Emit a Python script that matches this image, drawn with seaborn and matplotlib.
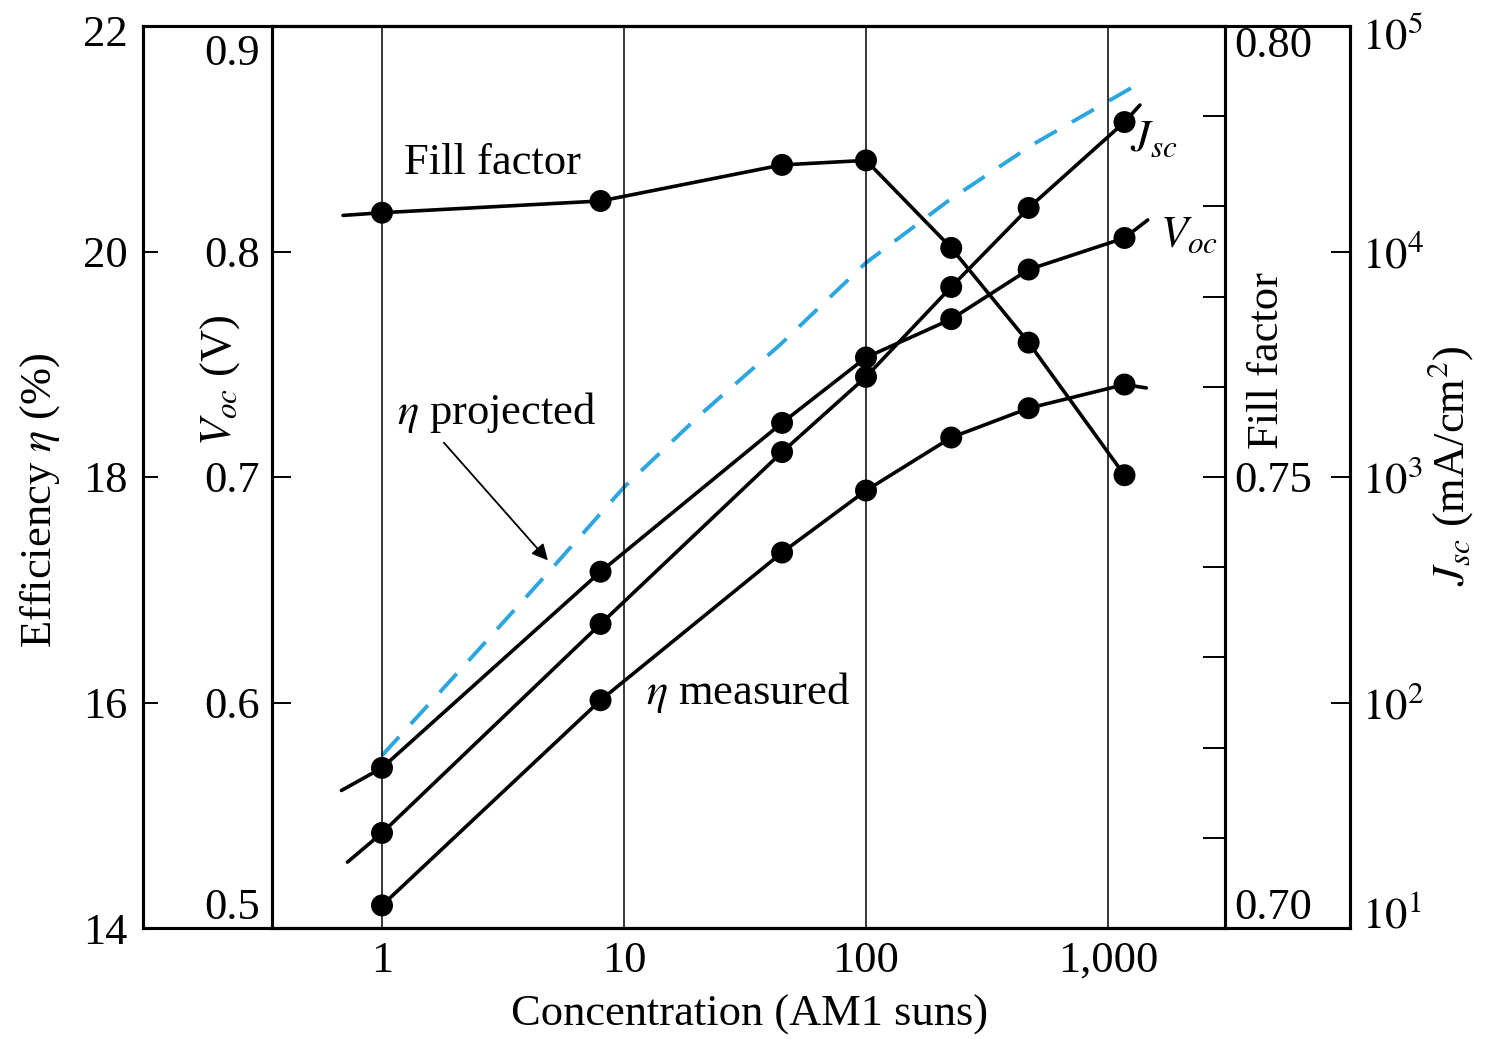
import numpy as np
import pandas as pd
import matplotlib
matplotlib.use("Agg")
import matplotlib.pyplot as plt
import matplotlib.transforms as mtransforms
import seaborn as sns
from matplotlib.ticker import NullLocator

# ---- measured data vs. concentration (AM1 suns) ----
concentration = [1, 8, 45, 100, 225, 470, 1170]
eff_measured = [14.20, 16.02, 17.33, 17.88, 18.35, 18.61, 18.82]
voc = [0.571, 0.658, 0.724, 0.753, 0.770, 0.792, 0.806]
jsc = [26.4, 223, 1290, 2780, 6960, 15600, 37500]
fill_factor = [0.7793, 0.7806, 0.7846, 0.7851, 0.7754, 0.7649, 0.7502]

# curve ends drawn past the measured points (no markers)
voc_end_conc = [0.68, 1460]
voc_end = [0.561, 0.814]
jsc_end_conc = [0.72, 1355]
jsc_end = [19.6, 44600]
eff_end_conc = [1440]
eff_end = [18.79]
ff_end_conc = [0.69]
ff_end = [0.779]

# projected efficiency (dashed curve)
eff_proj_conc = [1, 2.3, 4.85, 10, 20.6, 44, 100, 222, 490, 1420]
eff_proj = [15.53, 16.38, 17.15, 17.91, 18.55, 19.17, 19.90, 20.46, 20.95, 21.52]

x_ticks = [1, 10, 100, 1000]
x_tick_labels = ["1", "10", "100", "1,000"]
eff_ticks = [14, 16, 18, 20, 22]
voc_ticks = [0.5, 0.6, 0.7, 0.8, 0.9]
ff_ticks = [0.70, 0.71, 0.72, 0.73, 0.74, 0.75, 0.76, 0.77, 0.78, 0.79, 0.80]
ff_tick_labels = ["0.70", "", "", "", "", "0.75", "", "", "", "", "0.80"]
jsc_ticks = [1e1, 1e2, 1e3, 1e4, 1e5]
jsc_tick_labels = [r"$10^{1}$", r"$10^{2}$", r"$10^{3}$", r"$10^{4}$", r"$10^{5}$"]

sns.set_style("white", rc={"axes.edgecolor": "black", "xtick.color": "black",
                           "ytick.color": "black", "text.color": "black",
                           "axes.labelcolor": "black"})
plt.rcParams["font.family"] = ["Liberation Serif", "DejaVu Serif"]
plt.rcParams["mathtext.fontset"] = "stix"

W, H = 1486, 1039
fig = plt.figure(figsize=(W / 100, H / 100), dpi=100)


def fx(px):
    return px / W


def fy(py):
    return 1 - py / H


TOP, BOT = 26, 928
ONE_PX, DEC_PX = 382, 242   # position of x=1 and width of one decade


def xlim_for(left, right):
    return (10 ** ((left - ONE_PX) / DEC_PX), 10 ** ((right - ONE_PX) / DEC_PX))


def nudge(label, dy_px):
    off = mtransforms.ScaledTranslation(0, -dy_px / 100, fig.dpi_scale_trans)
    label.set_transform(label.get_transform() + off)


SPINE_W = 2.2
FS = 32
BLACK = "black"

# outer frame: efficiency (left) and Jsc (right)
ax_eff = fig.add_axes([fx(143), fy(BOT), (1350 - 143) / W, (BOT - TOP) / H])
ax_eff.set_xscale("log")
ax_eff.set_xlim(*xlim_for(143, 1350))
ax_eff.set_ylim(14, 22)
ax_eff.xaxis.set_major_locator(NullLocator())
ax_eff.xaxis.set_minor_locator(NullLocator())
ax_eff.set_yticks(eff_ticks)
ax_eff.tick_params(axis="y", direction="in", length=11, width=1.4, pad=11, labelsize=FS)

ax_jsc = ax_eff.twinx()
ax_jsc.set_yscale("log")
ax_jsc.set_ylim(1e1, 1e5)
ax_jsc.set_yticks(jsc_ticks, labels=jsc_tick_labels)
ax_jsc.yaxis.set_minor_locator(NullLocator())
ax_jsc.tick_params(axis="y", direction="in", length=14, width=1.4, pad=9, labelsize=FS)

# inner frame: Voc (left) and fill factor (right)
ax_voc = fig.add_axes([fx(272), fy(BOT), (1225 - 272) / W, (BOT - TOP) / H])
ax_voc.patch.set_visible(False)
ax_voc.set_xscale("log")
ax_voc.set_xlim(*xlim_for(272, 1225))
ax_voc.set_ylim(0.5, 0.9)
ax_voc.set_xticks(x_ticks, labels=x_tick_labels)
ax_voc.xaxis.set_minor_locator(NullLocator())
ax_voc.set_yticks(voc_ticks, labels=[f"{v:.1f}" for v in voc_ticks])
ax_voc.tick_params(axis="x", length=0, pad=9, labelsize=FS)
ax_voc.tick_params(axis="y", direction="in", length=14, width=1.4, pad=9, labelsize=FS)
ax_voc.grid(axis="x", which="major", color=BLACK, lw=1.1)
ax_voc.grid(axis="y", visible=False)

ax_ff = ax_voc.twinx()
ax_ff.set_ylim(0.70, 0.80)
ax_ff.set_yticks(ff_ticks, labels=ff_tick_labels)
ax_ff.tick_params(axis="y", direction="in", length=16, width=1.4, pad=7, labelsize=FS)

for a in (ax_eff, ax_jsc, ax_voc, ax_ff):
    for s in a.spines.values():
        s.set_linewidth(SPINE_W)
        s.set_color(BLACK)

# end labels sit inside the frame
vl = ax_voc.get_yticklabels()
vl[0].set_va("bottom")
vl[-1].set_va("top")
nudge(vl[-1], 8)
fl = ax_ff.get_yticklabels()
fl[0].set_va("bottom")
fl[-1].set_va("top")
jl = ax_jsc.get_yticklabels()
jl[0].set_va("baseline")
nudge(jl[-1], 7)
el = ax_eff.get_yticklabels()
nudge(el[-1], 5)

# ---- data ----
LW = 2.6
DOT = 250


def curve(ax, xs, ys):
    df = pd.DataFrame({"x": xs, "y": ys}).sort_values("x")
    sns.lineplot(data=df, x="x", y="y", ax=ax, color=BLACK, lw=LW,
                 estimator=None, sort=True, legend=False)
    ax.set_xlabel("")
    ax.set_ylabel("")


def dots(ax, xs, ys):
    sns.scatterplot(x=xs, y=ys, ax=ax, color=BLACK, s=DOT, edgecolor="none",
                    zorder=4, legend=False)
    ax.set_xlabel("")
    ax.set_ylabel("")


# projected efficiency
sns.lineplot(x=eff_proj_conc, y=eff_proj, ax=ax_eff, color="#2ba6de", lw=2.8,
             linestyle=(0, (6.5, 4.5)), estimator=None, legend=False)

curve(ax_eff, concentration + eff_end_conc, eff_measured + eff_end)
dots(ax_eff, concentration, eff_measured)

curve(ax_jsc, concentration + jsc_end_conc, jsc + jsc_end)
dots(ax_jsc, concentration, jsc)

curve(ax_voc, concentration + voc_end_conc, voc + voc_end)
dots(ax_voc, concentration, voc)

curve(ax_ff, ff_end_conc + concentration, ff_end + fill_factor)
dots(ax_ff, concentration, fill_factor)

# restore limits in case the plotting autoscaled
ax_eff.set_xlim(*xlim_for(143, 1350))
ax_eff.set_ylim(14, 22)
ax_jsc.set_ylim(1e1, 1e5)
ax_voc.set_xlim(*xlim_for(272, 1225))
ax_voc.set_ylim(0.5, 0.9)
ax_ff.set_ylim(0.70, 0.80)

# ---- in-plot labels ----
ax_eff.text(2.85, 20.785, "Fill factor", ha="center", va="center", fontsize=FS)
ax_eff.text(32.5, 16.09, r"$\eta$ measured", ha="center", va="center", fontsize=FS)
ax_eff.text(1233, 20.99, r"$J_{sc}$", ha="left", va="center", fontsize=FS)
ax_eff.text(1640, 20.14, r"$V_{oc}$", ha="left", va="center", fontsize=FS)
ax_eff.annotate(r"$\eta$ projected", xy=(4.85, 17.26), xytext=(2.99, 18.57),
                ha="center", va="center", fontsize=FS,
                arrowprops=dict(arrowstyle="-|>", color=BLACK, lw=1.3,
                                mutation_scale=24, shrinkA=4, shrinkB=0,
                                relpos=(0.2, 0.0)))

# ---- axis titles ----
fig.text(fx(40), fy(500), r"Efficiency $\eta$ (%)", rotation=90,
         ha="center", va="center", fontsize=FS)
fig.text(fx(220), fy(380), r"$V_{oc}$ (V)", rotation=90,
         ha="center", va="center", fontsize=FS)
fig.text(fx(1267), fy(360), "Fill factor", rotation=90,
         ha="center", va="center", fontsize=FS)
fig.text(fx(1450), fy(466), r"$J_{sc}$ (mA/cm$^2$)", rotation=90,
         ha="center", va="center", fontsize=FS)
fig.text(fx(750), fy(1015), "Concentration (AM1 suns)",
         ha="center", va="center", fontsize=FS)

fig.savefig("out.png", dpi=100, facecolor="white")
